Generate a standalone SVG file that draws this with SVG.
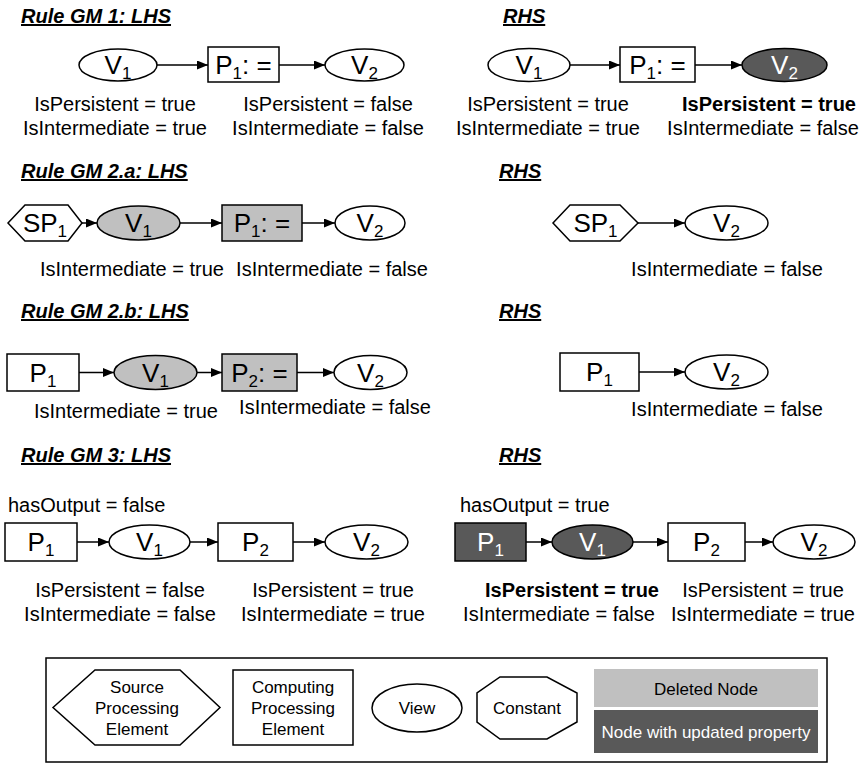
<svg xmlns="http://www.w3.org/2000/svg" width="862" height="764" viewBox="0 0 862 764">
  <style>
    text { font-family: "Liberation Sans", Arial, sans-serif; fill: #000; }
    .title { font-size: 20px; font-weight: bold; font-style: italic; text-decoration: underline; }
    .attr { font-size: 20px; text-anchor: middle; }
    .attrL { font-size: 20px; }
    .bold { font-weight: bold; }
    .lbl { font-size: 26px; text-anchor: middle; }
    .sub { font-size: 17px; }
    .inv { fill: #fff; }
    .leg { font-size: 17px; text-anchor: middle; }
    .shape { fill: #fff; stroke: #000; stroke-width: 1.5; }
    .del { fill: #c0c0c0; }
    .upd { fill: #595959; }
    .edge { stroke: #000; stroke-width: 1.5; fill: none; marker-end: url(#arrow); }
  </style>
  <defs>
    <marker id="arrow" markerUnits="userSpaceOnUse" markerWidth="11" markerHeight="9" refX="11" refY="4.5" orient="auto">
      <path d="M0,0 L11,4.5 L0,9 z" fill="#000"/>
    </marker>
  </defs>

  <rect width="862" height="764" fill="#fff"/>

  <!-- section titles -->
  <g id="titles">
    <text class="title" x="21" y="23">Rule GM 1: LHS</text>
    <text class="title" x="503" y="23">RHS</text>
    <text class="title" x="21" y="178">Rule GM 2.a: LHS</text>
    <text class="title" x="499" y="178">RHS</text>
    <text class="title" x="21" y="318">Rule GM 2.b: LHS</text>
    <text class="title" x="499" y="318">RHS</text>
    <text class="title" x="21" y="462">Rule GM 3: LHS</text>
    <text class="title" x="499" y="462">RHS</text>
  </g>

  <!-- connectors -->
  <g id="connectors">
    <line class="edge" x1="157" y1="65" x2="208" y2="65"/>
    <line class="edge" x1="279" y1="65" x2="325" y2="65"/>
    <line class="edge" x1="570" y1="65" x2="620" y2="65"/>
    <line class="edge" x1="695" y1="65" x2="742" y2="65"/>

    <line class="edge" x1="82" y1="223" x2="97" y2="223"/>
    <line class="edge" x1="180" y1="223" x2="222" y2="223"/>
    <line class="edge" x1="302" y1="223" x2="335" y2="223"/>
    <line class="edge" x1="638" y1="223" x2="685" y2="223"/>

    <line class="edge" x1="79" y1="372.5" x2="114" y2="372.5"/>
    <line class="edge" x1="197" y1="372.5" x2="222" y2="372.5"/>
    <line class="edge" x1="297" y1="372.5" x2="334" y2="372.5"/>
    <line class="edge" x1="639" y1="372" x2="685" y2="372"/>

    <line class="edge" x1="77" y1="542" x2="109" y2="542"/>
    <line class="edge" x1="190" y1="542" x2="218" y2="542"/>
    <line class="edge" x1="293" y1="542" x2="325" y2="542"/>
    <line class="edge" x1="526" y1="542" x2="552" y2="542"/>
    <line class="edge" x1="633" y1="542" x2="668" y2="542"/>
    <line class="edge" x1="745" y1="542" x2="773" y2="542"/>
  </g>

  <!-- Rule GM 1: LHS -->
  <g id="gm1-lhs-v1">
    <ellipse class="shape" cx="118" cy="65" rx="39" ry="16"/>
    <text class="lbl" x="118" y="74">V<tspan class="sub" dy="5">1</tspan></text>
  </g>
  <g id="gm1-lhs-p1">
    <rect class="shape" x="208" y="47" width="71" height="35"/>
    <text class="lbl" x="243.5" y="74">P<tspan class="sub" dy="5">1</tspan><tspan dy="-5">: =</tspan></text>
  </g>
  <g id="gm1-lhs-v2">
    <ellipse class="shape" cx="364.5" cy="65" rx="39.5" ry="16"/>
    <text class="lbl" x="364.5" y="74">V<tspan class="sub" dy="5">2</tspan></text>
  </g>
  <g id="gm1-lhs-props">
    <text class="attr" x="115" y="111">IsPersistent = true</text>
    <text class="attr" x="115" y="135">IsIntermediate = true</text>
    <text class="attr" x="328" y="111">IsPersistent = false</text>
    <text class="attr" x="328" y="135">IsIntermediate = false</text>
  </g>

  <!-- Rule GM 1: RHS -->
  <g id="gm1-rhs-v1">
    <ellipse class="shape" cx="529" cy="65" rx="41" ry="16.5"/>
    <text class="lbl" x="529" y="74">V<tspan class="sub" dy="5">1</tspan></text>
  </g>
  <g id="gm1-rhs-p1">
    <rect class="shape" x="620" y="47" width="75" height="35"/>
    <text class="lbl" x="657.5" y="74">P<tspan class="sub" dy="5">1</tspan><tspan dy="-5">: =</tspan></text>
  </g>
  <g id="gm1-rhs-v2">
    <ellipse class="shape upd" cx="784.5" cy="65" rx="42.5" ry="16.5"/>
    <text class="lbl inv" x="784.5" y="74">V<tspan class="sub inv" dy="5">2</tspan></text>
  </g>
  <g id="gm1-rhs-props">
    <text class="attr" x="548" y="111">IsPersistent = true</text>
    <text class="attr" x="548" y="135">IsIntermediate = true</text>
    <text class="attr bold" x="769" y="111">IsPersistent = true</text>
    <text class="attr" x="763" y="135">IsIntermediate = false</text>
  </g>

  <!-- Rule GM 2.a: LHS -->
  <g id="gm2a-lhs-sp1">
    <polygon class="shape" points="8,223 25,205 68,205 82,223 68,241 25,241"/>
    <text class="lbl" x="45" y="232">SP<tspan class="sub" dy="5">1</tspan></text>
  </g>
  <g id="gm2a-lhs-v1">
    <ellipse class="shape del" cx="138.5" cy="223" rx="41.5" ry="17"/>
    <text class="lbl" x="138.5" y="232">V<tspan class="sub" dy="5">1</tspan></text>
  </g>
  <g id="gm2a-lhs-p1">
    <rect class="shape del" x="222" y="205" width="80" height="36"/>
    <text class="lbl" x="262" y="232">P<tspan class="sub" dy="5">1</tspan><tspan dy="-5">: =</tspan></text>
  </g>
  <g id="gm2a-lhs-v2">
    <ellipse class="shape" cx="370" cy="223" rx="35" ry="17"/>
    <text class="lbl" x="370" y="232">V<tspan class="sub" dy="5">2</tspan></text>
  </g>
  <g id="gm2a-lhs-props">
    <text class="attr" x="132" y="276">IsIntermediate = true</text>
    <text class="attr" x="332" y="276">IsIntermediate = false</text>
  </g>

  <!-- Rule GM 2.a: RHS -->
  <g id="gm2a-rhs-sp1">
    <polygon class="shape" points="553,223 570,205 620,205 638,223 620,241 570,241"/>
    <text class="lbl" x="595.5" y="232">SP<tspan class="sub" dy="5">1</tspan></text>
  </g>
  <g id="gm2a-rhs-v2">
    <ellipse class="shape" cx="726.5" cy="223" rx="41.5" ry="17"/>
    <text class="lbl" x="726.5" y="232">V<tspan class="sub" dy="5">2</tspan></text>
  </g>
  <g id="gm2a-rhs-props">
    <text class="attr" x="727" y="276">IsIntermediate = false</text>
  </g>

  <!-- Rule GM 2.b: LHS -->
  <g id="gm2b-lhs-p1">
    <rect class="shape" x="7" y="354" width="72" height="37"/>
    <text class="lbl" x="43" y="381.5">P<tspan class="sub" dy="5">1</tspan></text>
  </g>
  <g id="gm2b-lhs-v1">
    <ellipse class="shape del" cx="155.5" cy="372.5" rx="41.5" ry="17"/>
    <text class="lbl" x="155.5" y="381.5">V<tspan class="sub" dy="5">1</tspan></text>
  </g>
  <g id="gm2b-lhs-p2">
    <rect class="shape del" x="222" y="354" width="75" height="37"/>
    <text class="lbl" x="259.5" y="381.5">P<tspan class="sub" dy="5">2</tspan><tspan dy="-5">: =</tspan></text>
  </g>
  <g id="gm2b-lhs-v2">
    <ellipse class="shape" cx="370.5" cy="372.5" rx="36.5" ry="17"/>
    <text class="lbl" x="370.5" y="381.5">V<tspan class="sub" dy="5">2</tspan></text>
  </g>
  <g id="gm2b-lhs-props">
    <text class="attr" x="126" y="418">IsIntermediate = true</text>
    <text class="attr" x="335" y="414">IsIntermediate = false</text>
  </g>

  <!-- Rule GM 2.b: RHS -->
  <g id="gm2b-rhs-p1">
    <rect class="shape" x="560" y="353" width="79" height="38"/>
    <text class="lbl" x="599.5" y="381">P<tspan class="sub" dy="5">1</tspan></text>
  </g>
  <g id="gm2b-rhs-v2">
    <ellipse class="shape" cx="726.5" cy="372" rx="41.5" ry="17"/>
    <text class="lbl" x="726.5" y="381">V<tspan class="sub" dy="5">2</tspan></text>
  </g>
  <g id="gm2b-rhs-props">
    <text class="attr" x="727" y="416">IsIntermediate = false</text>
  </g>

  <!-- Rule GM 3: LHS -->
  <g id="gm3-lhs-p1">
    <text class="attrL" x="8" y="512">hasOutput = false</text>
    <rect class="shape" x="5" y="523" width="72" height="38"/>
    <text class="lbl" x="41" y="551">P<tspan class="sub" dy="5">1</tspan></text>
  </g>
  <g id="gm3-lhs-v1">
    <ellipse class="shape" cx="149.5" cy="542" rx="40.5" ry="17"/>
    <text class="lbl" x="149.5" y="551">V<tspan class="sub" dy="5">1</tspan></text>
  </g>
  <g id="gm3-lhs-p2">
    <rect class="shape" x="218" y="523" width="75" height="38"/>
    <text class="lbl" x="255.5" y="551">P<tspan class="sub" dy="5">2</tspan></text>
  </g>
  <g id="gm3-lhs-v2">
    <ellipse class="shape" cx="366.5" cy="542" rx="41.5" ry="17"/>
    <text class="lbl" x="366.5" y="551">V<tspan class="sub" dy="5">2</tspan></text>
  </g>
  <g id="gm3-lhs-props">
    <text class="attr" x="120" y="597">IsPersistent = false</text>
    <text class="attr" x="120" y="621">IsIntermediate = false</text>
    <text class="attr" x="333" y="597">IsPersistent = true</text>
    <text class="attr" x="333" y="621">IsIntermediate = true</text>
  </g>

  <!-- Rule GM 3: RHS -->
  <g id="gm3-rhs-p1">
    <text class="attrL" x="460" y="512">hasOutput = true</text>
    <rect class="shape upd" x="455" y="523" width="71" height="38"/>
    <text class="lbl inv" x="490.5" y="551">P<tspan class="sub inv" dy="5">1</tspan></text>
  </g>
  <g id="gm3-rhs-v1">
    <ellipse class="shape upd" cx="592.5" cy="542" rx="40.5" ry="17"/>
    <text class="lbl inv" x="592.5" y="551">V<tspan class="sub inv" dy="5">1</tspan></text>
  </g>
  <g id="gm3-rhs-p2">
    <rect class="shape" x="668" y="523" width="77" height="38"/>
    <text class="lbl" x="706.5" y="551">P<tspan class="sub" dy="5">2</tspan></text>
  </g>
  <g id="gm3-rhs-v2">
    <ellipse class="shape" cx="814" cy="542" rx="41" ry="17"/>
    <text class="lbl" x="814" y="551">V<tspan class="sub" dy="5">2</tspan></text>
  </g>
  <g id="gm3-rhs-props">
    <text class="attr bold" x="572" y="597">IsPersistent = true</text>
    <text class="attr" x="559" y="621">IsIntermediate = false</text>
    <text class="attr" x="763" y="597">IsPersistent = true</text>
    <text class="attr" x="763" y="621">IsIntermediate = true</text>
  </g>

  <!-- legend -->
  <g id="legend">
    <rect x="46" y="658" width="781" height="104" fill="#fff" stroke="#000" stroke-width="1.5"/>
    <g id="legend-source">
      <polygon class="shape" points="53,707.5 95,670 180,670 220,707.5 180,745 95,745"/>
      <text class="leg" x="137" y="693">Source</text>
      <text class="leg" x="137" y="714">Processing</text>
      <text class="leg" x="137" y="735">Element</text>
    </g>
    <g id="legend-computing">
      <rect class="shape" x="233" y="670" width="120" height="75"/>
      <text class="leg" x="293" y="693">Computing</text>
      <text class="leg" x="293" y="714">Processing</text>
      <text class="leg" x="293" y="735">Element</text>
    </g>
    <g id="legend-view">
      <ellipse class="shape" cx="417" cy="708" rx="45" ry="24"/>
      <text class="leg" x="417" y="714">View</text>
    </g>
    <g id="legend-constant">
      <polygon class="shape" points="500,677 547,677 577,693 577,722 547,739 500,739 477,722 477,693"/>
      <text class="leg" x="527" y="714">Constant</text>
    </g>
    <g id="legend-deleted">
      <rect x="594" y="669" width="224" height="38" fill="#c0c0c0"/>
      <text class="leg" x="706" y="695">Deleted Node</text>
    </g>
    <g id="legend-updated">
      <rect x="594" y="710" width="224" height="43" fill="#595959"/>
      <text class="leg inv" x="706" y="738">Node with updated property</text>
    </g>
  </g>
</svg>
